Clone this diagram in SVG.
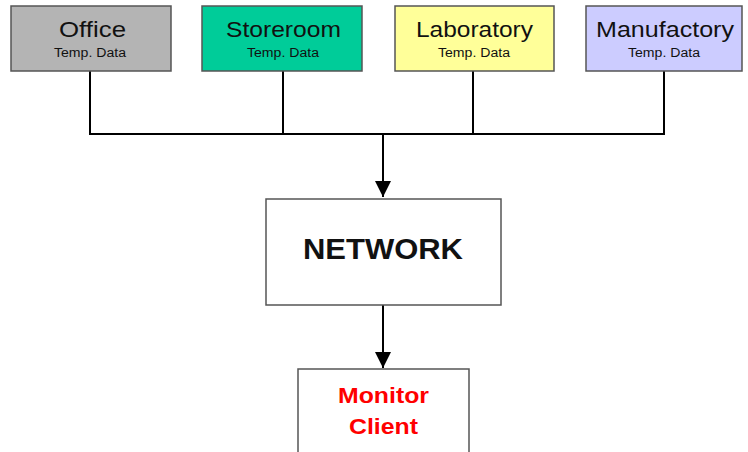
<svg xmlns="http://www.w3.org/2000/svg" width="748" height="452" viewBox="0 0 748 452">
<style>
.box{stroke:#555;stroke-width:1.5}
.t{font-family:"Liberation Sans",Arial,sans-serif;text-anchor:middle;fill:#111}
.big{font-size:22px}
.small{font-size:12px}
.c{stroke:#000;stroke-width:2;fill:none}
.red{fill:#ff0000;font-size:22px;font-weight:bold}
</style>
<defs>
<marker id="ah" markerWidth="8" markerHeight="8" refX="8" refY="4" orient="auto" markerUnits="strokeWidth">
<path d="M0,0 L8,4 L0,8 Z" fill="#000"/>
</marker>
</defs>
<rect width="748" height="452" fill="#fff"/>
<g id="connectors">
<path class="c" d="M90,71 V134 H664 V71 M283,71 V134 M473,71 V134"/>
<path class="c" d="M383,134 V197" marker-end="url(#ah)"/>
<path class="c" d="M383,305 V368" marker-end="url(#ah)"/>
</g>
<g id="office">
<rect class="box" x="11" y="6" width="160" height="65" fill="#b4b4b4"/>
<text class="t big" x="92.5" y="37" textLength="67" lengthAdjust="spacingAndGlyphs">Office</text>
<text class="t small" x="90" y="57" textLength="72" lengthAdjust="spacingAndGlyphs">Temp. Data</text>
</g>
<g id="storeroom">
<rect class="box" x="202" y="6" width="160" height="65" fill="#00cc99"/>
<text class="t big" x="283.5" y="37" textLength="115" lengthAdjust="spacingAndGlyphs">Storeroom</text>
<text class="t small" x="283" y="57" textLength="72" lengthAdjust="spacingAndGlyphs">Temp. Data</text>
</g>
<g id="laboratory">
<rect class="box" x="395" y="6" width="159" height="65" fill="#ffff99"/>
<text class="t big" x="474.5" y="37" textLength="117" lengthAdjust="spacingAndGlyphs">Laboratory</text>
<text class="t small" x="474" y="57" textLength="72" lengthAdjust="spacingAndGlyphs">Temp. Data</text>
</g>
<g id="manufactory">
<rect class="box" x="586" y="6" width="156" height="65" fill="#ccccff"/>
<text class="t big" x="665" y="37" textLength="138" lengthAdjust="spacingAndGlyphs">Manufactory</text>
<text class="t small" x="664" y="57" textLength="72" lengthAdjust="spacingAndGlyphs">Temp. Data</text>
</g>
<g id="network">
<rect class="box" x="266" y="199" width="235" height="106" fill="#fff"/>
<text class="t" x="383" y="259" font-size="29" font-weight="bold" textLength="160" lengthAdjust="spacingAndGlyphs">NETWORK</text>
</g>
<g id="monitor">
<rect class="box" x="298" y="369" width="171" height="90" fill="#fff"/>
<text class="t red" x="383.5" y="403" textLength="91" lengthAdjust="spacingAndGlyphs">Monitor</text>
<text class="t red" x="383.5" y="434" textLength="69" lengthAdjust="spacingAndGlyphs">Client</text>
</g>
</svg>
